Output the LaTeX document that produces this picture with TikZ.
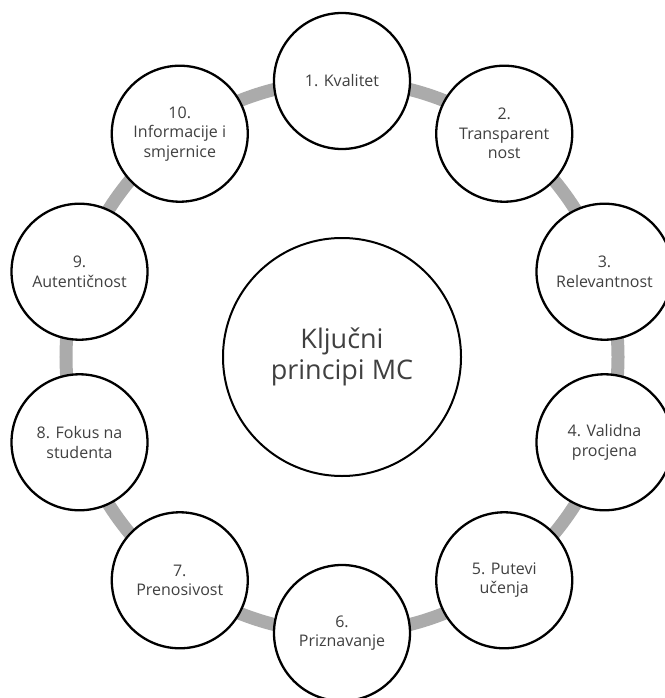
\documentclass[tikz,border=0pt]{standalone}
\usepackage{fontspec}
\setmainfont{Open Sans}
\usetikzlibrary{backgrounds,calc}
\definecolor{ringgray}{RGB}{171,171,171}
\definecolor{txtgray}{RGB}{64,64,64}
\begin{document}
\begin{tikzpicture}[x=1pt,y=1pt,
  principle/.style={circle,draw=black,line width=2.3pt,fill=white,minimum size=136pt,inner sep=0pt,align=center,text=txtgray,font=\fontsize{16}{19.5}\selectfont},
  hub/.style={circle,draw=black,line width=2pt,fill=white,minimum size=238pt,inner sep=0pt,align=center,text=txtgray,font=\fontsize{27}{31}\selectfont},
  ring/.style={line width=13pt,draw=ringgray}]
\useasboundingbox (0,0) rectangle (664,-698);
\coordinate (o) at (342,-357);
\node[hub] (hub) at (o) {Ključni\\principi MC};
\foreach \k/\lbl in {1/{1. Kvalitet},2/{2.\\Transparent\\nost},3/{3.\\Relevantnost},4/{4. Validna\\procjena},5/{5. Putevi\\učenja},6/{6.\\Priznavanje},7/{7.\\Prenosivost},8/{8. Fokus na\\studenta},9/{9.\\Autentičnost},10/{10.\\Informacije i\\smjernice}}
  \node[principle] (p\k) at ($(o)+({90-36*(\k-1)}:276)$) {\lbl};
\begin{pgfonlayer}{background}
\foreach \a in {1,...,10}
  \draw[ring] (p\a.center) arc[start angle={90-36*(\a-1)}, delta angle=-36, radius=276pt];
\end{pgfonlayer}
\end{tikzpicture}
\end{document}
